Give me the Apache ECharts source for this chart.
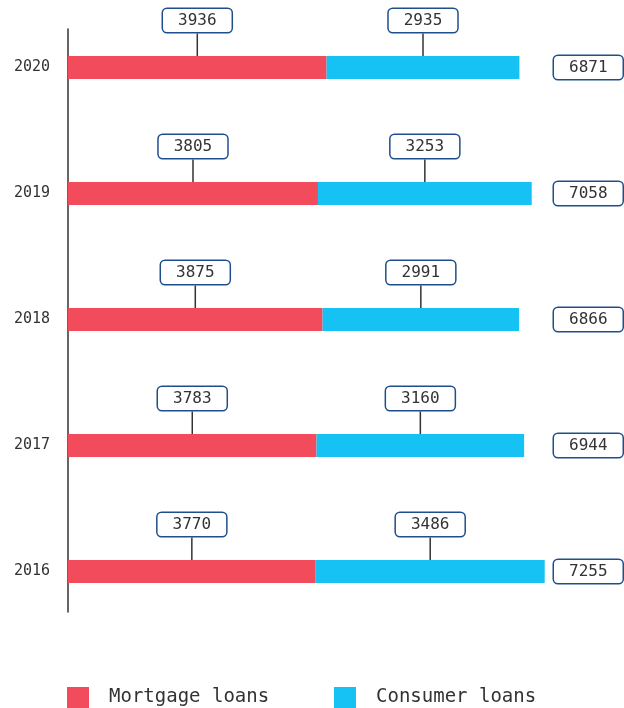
<!DOCTYPE html>
<html>
<head>
<meta charset="utf-8">
<script src="https://cdn.jsdelivr.net/npm/echarts@6/dist/echarts.min.js"></script>
<style>
html,body{margin:0;padding:0;background:#fff;}
#chart{width:624px;height:708px;}
</style>
</head>
<body>
<div id="chart"></div>
<script>
const years = ['2016', '2017', '2018', '2019', '2020'];
const mortgage = [3770, 3783, 3875, 3805, 3936];
const consumer = [3486, 3160, 2991, 3253, 2935];
const totals = [7255, 6944, 6866, 7058, 6871];
const seriesNames = ['Mortgage loans', 'Consumer loans'];

const FONT = 'DejaVu Sans Mono';
const RED = '#F24C5C';
const BLUE = '#16C1F3';
const BOX = '#1F4E8C';
const TXT = '#333333';

const boxLabel = {
  show: true,
  position: 'top',
  distance: 0,
  fontFamily: FONT,
  fontSize: 16,
  color: TXT,
  backgroundColor: '#fff',
  borderColor: BOX,
  borderWidth: 1.5,
  borderRadius: 4,
  padding: [3, 15, 3, 15],
  lineHeight: 17
};

const chart = echarts.init(document.getElementById('chart'), null, {renderer: 'canvas'});
chart.setOption({
  animation: false,
  grid: [
    {left: 68, top: 4.5, width: 479.6, height: 630, outerBoundsMode: 'none', containLabel: false},
    {left: 68, top: 29, width: 10, height: 583, outerBoundsMode: 'none', containLabel: false}
  ],
  xAxis: [
    {type: 'value', gridIndex: 0, min: 0, max: 7300, show: false},
    {type: 'value', gridIndex: 1, min: 0, max: 1, show: false}
  ],
  yAxis: [
    {
      type: 'category', gridIndex: 0, data: years,
      axisLine: {show: false}, axisTick: {show: false},
      axisLabel: {margin: 18, fontFamily: FONT, fontSize: 15, color: TXT}
    },
    {
      type: 'category', gridIndex: 0, position: 'right', data: totals.map(String),
      axisLine: {show: false}, axisTick: {show: false},
      axisLabel: {
        margin: 6.4, fontFamily: FONT, fontSize: 16, color: TXT,
        backgroundColor: '#fff', borderColor: BOX, borderWidth: 1.5, borderRadius: 4,
        padding: [3, 15, 3, 15], lineHeight: 17
      }
    },
    {
      type: 'value', gridIndex: 1, min: 0, max: 1,
      axisLine: {show: true, lineStyle: {color: '#333', width: 1.5}},
      axisTick: {show: false}, axisLabel: {show: false}, splitLine: {show: false}
    }
  ],
  legend: [
    {
      data: [seriesNames[0]], left: 67, top: 687, padding: 0, itemWidth: 22, itemHeight: 21,
      icon: 'rect', textStyle: {fontFamily: FONT, fontSize: 19, color: TXT, padding: [0, 0, 0, 15]}
    },
    {
      data: [seriesNames[1]], left: 334, top: 687, padding: 0, itemWidth: 22, itemHeight: 21,
      icon: 'rect', textStyle: {fontFamily: FONT, fontSize: 19, color: TXT, padding: [0, 0, 0, 15]}
    }
  ],
  series: [
    {
      name: seriesNames[0], type: 'bar', stack: 'total', xAxisIndex: 0, yAxisIndex: 0,
      data: mortgage, barWidth: 23, itemStyle: {color: RED},
      label: boxLabel, labelLayout: {dy: -24},
      labelLine: {show: true, lineStyle: {color: '#333', width: 1.5}}
    },
    {
      name: seriesNames[1], type: 'bar', stack: 'total', xAxisIndex: 0, yAxisIndex: 0,
      data: consumer, barWidth: 23, itemStyle: {color: BLUE},
      label: boxLabel, labelLayout: {dy: -24},
      labelLine: {show: true, lineStyle: {color: '#333', width: 1.5}}
    }
  ]
});
</script>
</body>
</html>
